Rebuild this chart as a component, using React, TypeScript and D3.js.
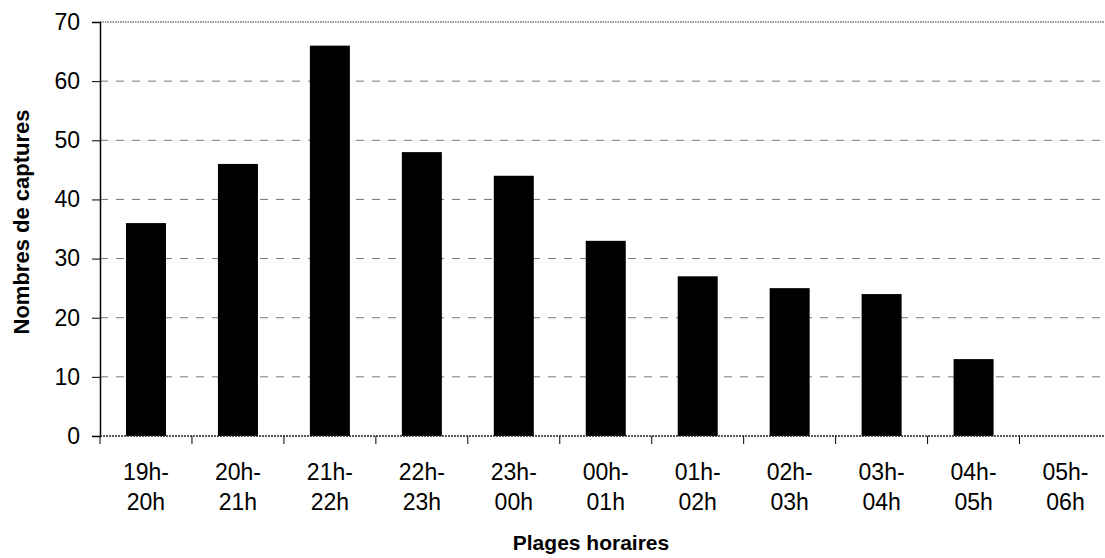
import { useEffect, useRef } from 'react';
import * as d3 from 'd3';

const categories = ['19h-20h', '20h-21h', '21h-22h', '22h-23h', '23h-00h', '00h-01h', '01h-02h', '02h-03h', '03h-04h', '04h-05h', '05h-06h'];
const captures = [36, 46, 66, 48, 44, 33, 27, 25, 24, 13, 0];
const yTicks = [0, 10, 20, 30, 40, 50, 60, 70];

const FONT = '"Liberation Sans", Arial, sans-serif';

export default function App() {
  const svgRef = useRef<SVGSVGElement | null>(null);

  useEffect(() => {
    const svgElement = svgRef.current;
    if (!svgElement) {
      return;
    }
    const svg = d3.select(svgElement);
    svg.selectAll('*').remove();

    const width = 1105;
    const height = 558;
    const margin = { top: 22, left: 100, bottom: 122 };
    const plotRight = 1111.5;
    const plotBottom = height - margin.bottom;

    const x = d3.scaleBand<string>().domain(categories).range([margin.left, plotRight]).paddingInner(0.565).paddingOuter(0.2825);
    const y = d3.scaleLinear().domain([0, 70]).range([plotBottom, margin.top]);

    svg.attr('width', width).attr('height', height).attr('viewBox', `0 0 ${width} ${height}`);
    svg.append('rect').attr('width', width).attr('height', height).attr('fill', '#ffffff');

    // gridlines
    svg
      .append('g')
      .selectAll('line')
      .data(yTicks.filter((t) => t > 0 && t < 70))
      .join('line')
      .attr('x1', margin.left)
      .attr('x2', plotRight)
      .attr('y1', (d) => y(d))
      .attr('y2', (d) => y(d))
      .attr('stroke', '#777')
      .attr('stroke-width', 1)
      .attr('stroke-dasharray', '8 8');

    // top border
    svg
      .append('line')
      .attr('x1', margin.left)
      .attr('x2', plotRight)
      .attr('y1', y(70))
      .attr('y2', y(70))
      .attr('stroke', '#333')
      .attr('stroke-width', 1.2)
      .attr('stroke-dasharray', '1.5 1');

    // bars
    svg
      .append('g')
      .selectAll('rect')
      .data(captures)
      .join('rect')
      .attr('x', (_, i) => x(categories[i])!)
      .attr('width', x.bandwidth())
      .attr('y', (d) => y(d))
      .attr('height', (d) => y(0) - y(d))
      .attr('fill', '#000');

    // y axis
    const yAxis = d3
      .axisLeft(y)
      .tickValues(yTicks)
      .tickSize(8)
      .tickPadding(12)
      .tickFormat((v) => `${v}`);
    const yAxisGroup = svg.append('g').attr('transform', `translate(${margin.left},0)`).call(yAxis);
    yAxisGroup.select('.domain').attr('stroke', '#000').attr('stroke-width', 1.5);
    yAxisGroup.selectAll('.tick line').attr('stroke', '#000');
    yAxisGroup.selectAll('text').attr('font-family', FONT).attr('font-size', 23).attr('fill', '#000');

    // x axis line
    svg
      .append('line')
      .attr('x1', margin.left)
      .attr('x2', plotRight)
      .attr('y1', plotBottom)
      .attr('y2', plotBottom)
      .attr('stroke', '#222')
      .attr('stroke-width', 1.5)
      .attr('stroke-dasharray', '2 1');

    // x ticks at category boundaries
    const step = x.step();
    svg
      .append('g')
      .selectAll('line')
      .data(d3.range(categories.length + 1))
      .join('line')
      .attr('x1', (i) => margin.left + i * step)
      .attr('x2', (i) => margin.left + i * step)
      .attr('y1', plotBottom)
      .attr('y2', plotBottom + 8)
      .attr('stroke', '#000');

    // x labels, two lines
    const labels = svg
      .append('g')
      .selectAll('text')
      .data(categories)
      .join('text')
      .attr('font-family', FONT)
      .attr('font-size', 23)
      .attr('fill', '#000')
      .attr('text-anchor', 'middle');
    labels
      .selectAll('tspan')
      .data((d) => {
        const parts = d.split('-');
        return [{ t: `${parts[0]}-`, c: d, row: 0 }, { t: parts[1], c: d, row: 1 }];
      })
      .join('tspan')
      .attr('x', (d) => x(d.c)! + x.bandwidth() / 2)
      .attr('y', (d) => plotBottom + 44 + d.row * 30)
      .text((d) => d.t);

    // axis titles
    svg
      .append('text')
      .attr('x', 591)
      .attr('y', 550)
      .attr('text-anchor', 'middle')
      .attr('font-family', FONT)
      .attr('font-size', 21)
      .attr('font-weight', 'bold')
      .text('Plages horaires');
    svg
      .append('text')
      .attr('transform', `translate(29,222) rotate(-90)`)
      .attr('text-anchor', 'middle')
      .attr('font-family', FONT)
      .attr('font-size', 22)
      .attr('font-weight', 'bold')
      .text('Nombres de captures');
  }, []);

  return (
    <div style={{ position: 'absolute', left: 0, top: 0, width: 1105, height: 558, overflow: 'hidden' }}>
      <svg ref={svgRef} style={{ display: 'block' }} aria-label="Nombres de captures par plage horaire" />
    </div>
  );
}
